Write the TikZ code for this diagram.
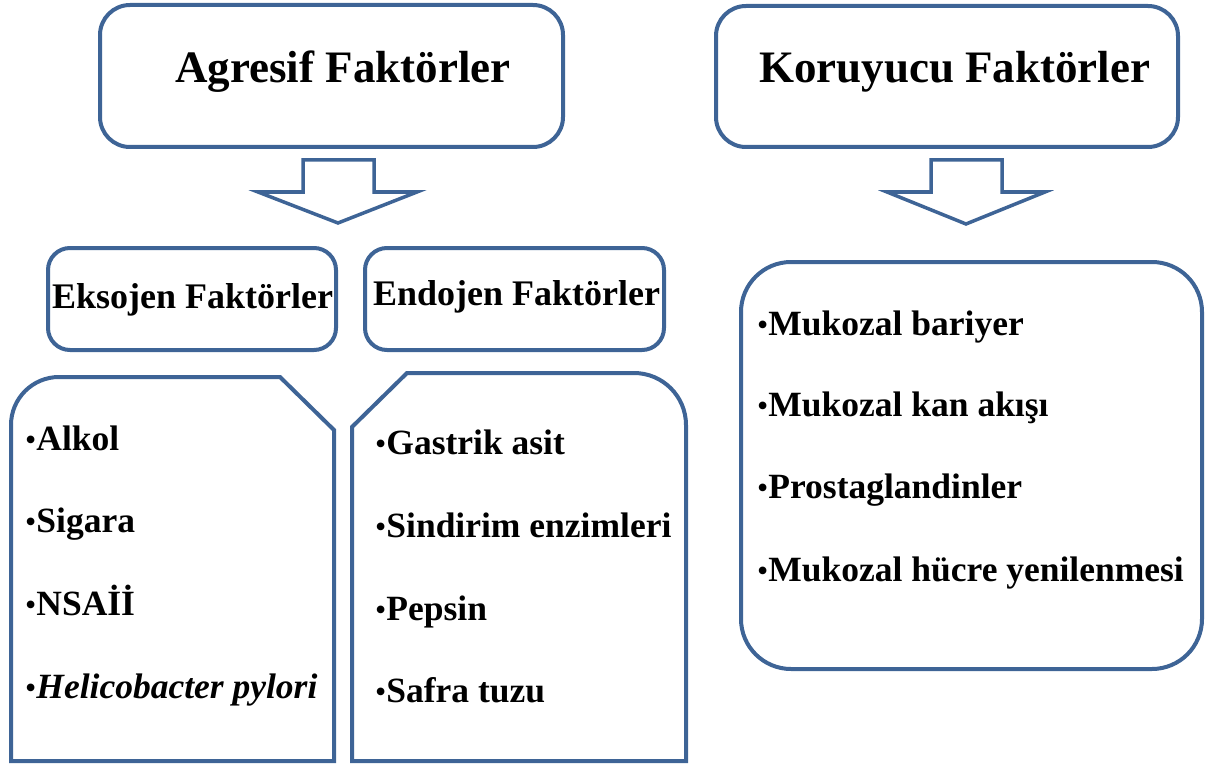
\documentclass[tikz,border=0pt]{standalone}
\usepackage{fontspec}
\setmainfont{Liberation Serif}
\definecolor{edgeblue}{RGB}{62,100,150}
\newcommand{\bul}{{\mdseries\upshape\fontsize{32}{38}\selectfont •}}
\begin{document}
\begin{tikzpicture}[x=1pt,y=-1pt,
  box/.style={draw=edgeblue, line width=4pt, rectangle, inner sep=0pt, fill=white},
  blockarrow/.style={draw=edgeblue, line width=3.5pt, line join=miter, fill=white},
  listshape/.style={draw=edgeblue, line width=4pt, line join=miter, fill=white},
  headtext/.style={inner sep=0pt, anchor=base west, font=\fontsize{45}{54}\selectfont\bfseries},
  subtext/.style={inner sep=0pt, anchor=base west, font=\fontsize{36}{43}\selectfont\bfseries},
  itemtext/.style={inner sep=0pt, anchor=base west, font=\fontsize{35.5}{43}\selectfont\bfseries},
]
\useasboundingbox (0,0) rectangle (1216,765);

% top boxes
\node[box, rounded corners=30pt, minimum width=463pt, minimum height=142pt] (agr) at (331.5,76) {};
\node[box, rounded corners=30pt, minimum width=462pt, minimum height=141pt] (kor) at (947,76.5) {};
\node[headtext] (agrt) at (175,83) {Agresif Faktörler};
\node[headtext] (kort) at (759,83) {Koruyucu Faktörler};

% block arrows
\draw[blockarrow] (303,160) -- (374,160) -- (374,192) -- (417,192) -- (338,223)
  -- (258,192) -- (303,192) -- cycle;
\draw[blockarrow] (931,160) -- (1002,160) -- (1002,192) -- (1045,192) -- (966,224)
  -- (887,192) -- (931,192) -- cycle;

% sub header boxes
\node[box, rounded corners=22pt, minimum width=288pt, minimum height=102pt] (eks) at (192,299) {};
\node[box, rounded corners=22pt, minimum width=299pt, minimum height=102pt] (endo) at (514.5,299) {};
\node[subtext] (ekst) at (52,308) {Eksojen Faktörler};
\node[subtext] (endot) at (373,305) {Endojen Faktörler};

% list shapes
\draw[listshape] (11,761) -- (11,600) {[rounded corners=48pt] -- (11,377) -- (150,377)}
  -- (280,377) -- (334,430) -- (334,761) -- cycle;
\draw[listshape] (352,761) -- (352,427) -- (407,373) -- (600,373)
  {[rounded corners=52pt] -- (686,373) -- (686,520)} -- (686,761) -- cycle;
\node[box, rounded corners=50pt, minimum width=461pt, minimum height=407pt] (kor2) at (971.5,465.5) {};

% items
\node[itemtext] (a1) at (25,450) {\bul Alkol};
\node[itemtext] (a2) at (25,532) {\bul Sigara};
\node[itemtext] (a3) at (25,615) {\bul NSAİİ};
\node[itemtext] (a4) at (25,698) {\bul\textit{Helicobacter pylori}};

\node[itemtext] (b1) at (375,454) {\bul Gastrik asit};
\node[itemtext] (b2) at (375,537) {\bul Sindirim enzimleri};
\node[itemtext] (b3) at (375,620) {\bul Pepsin};
\node[itemtext] (b4) at (375,702) {\bul Safra tuzu};

\node[itemtext] (c1) at (757,335) {\bul Mukozal bariyer};
\node[itemtext] (c2) at (757,416) {\bul Mukozal kan akışı};
\node[itemtext] (c3) at (757,498) {\bul Prostaglandinler};
\node[itemtext] (c4) at (757,581) {\bul Mukozal hücre yenilenmesi};
\end{tikzpicture}
\end{document}
